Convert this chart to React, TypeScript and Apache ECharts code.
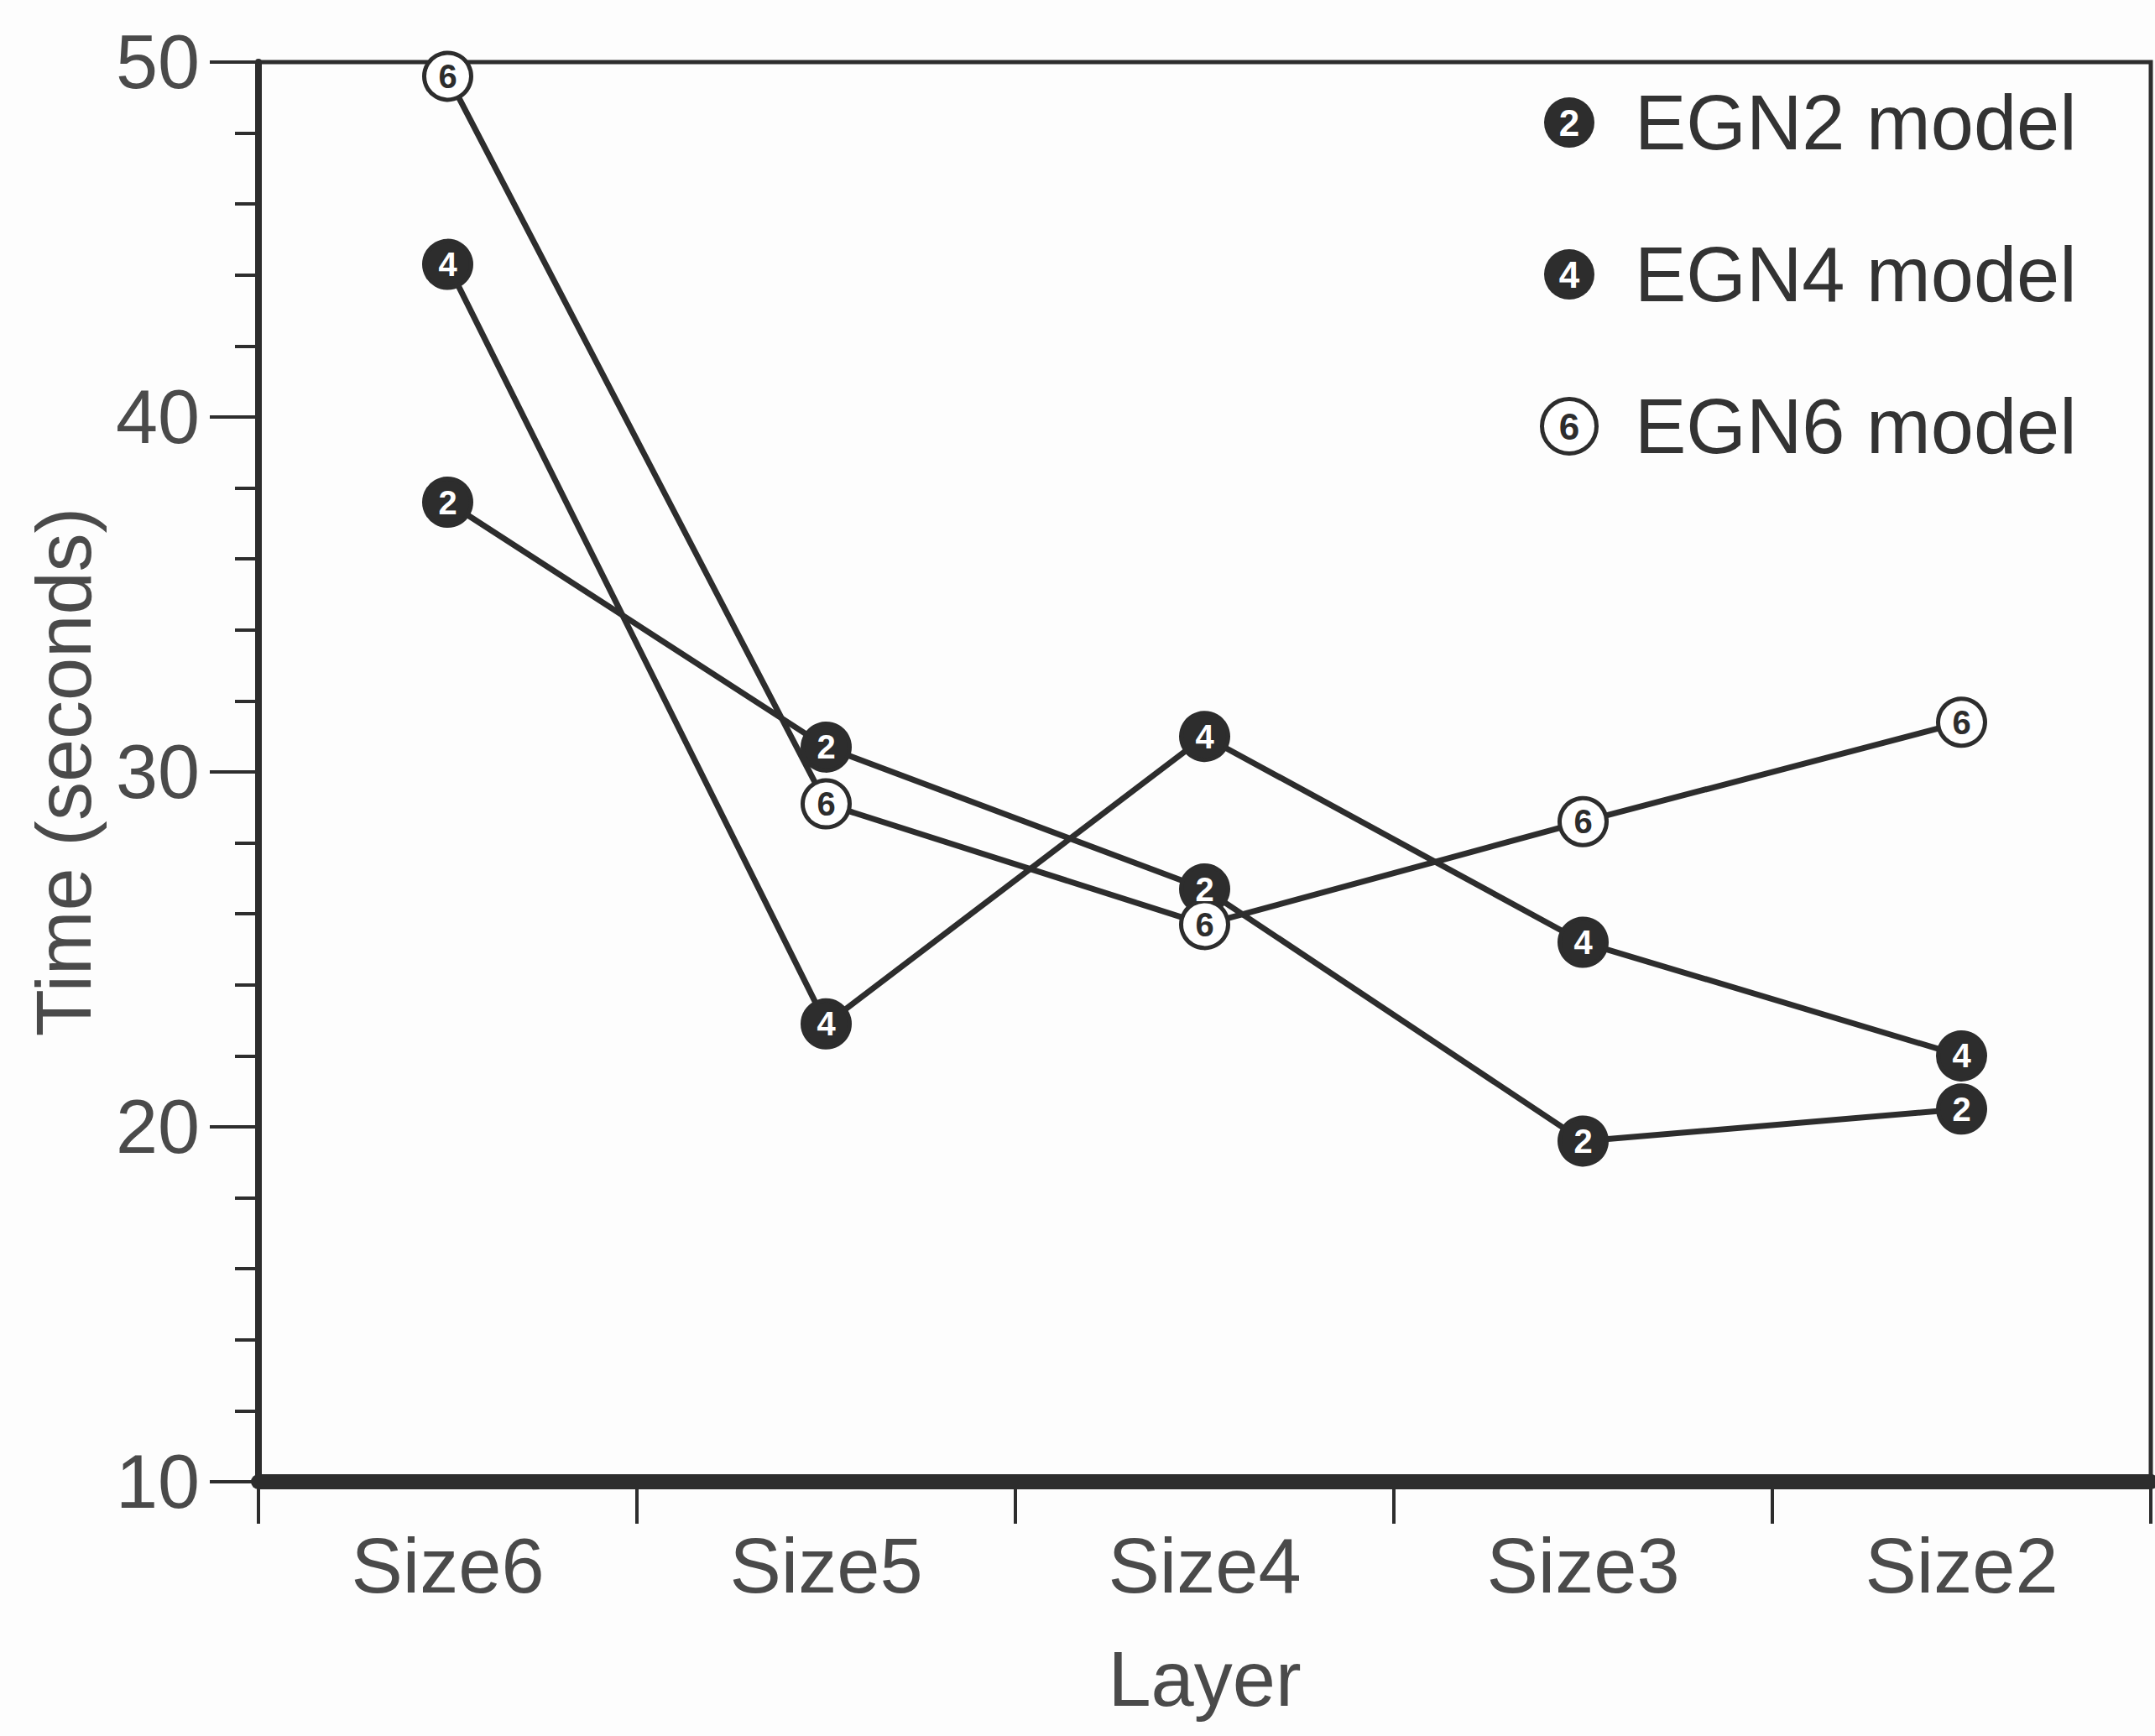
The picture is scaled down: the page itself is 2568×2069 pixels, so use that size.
import React, { useEffect, useRef } from "react";
import * as echarts from "echarts";

// Layer sizes along the x axis
const layers = ["Size6", "Size5", "Size4", "Size3", "Size2"];

// Training time (seconds) per layer size for each model
const egn2Times = [37.6, 30.7, 26.7, 19.6, 20.5];
const egn4Times = [44.3, 22.9, 31.0, 25.2, 22.0];
const egn6Times = [49.6, 29.1, 25.7, 28.6, 31.4];

// Value axis range and step
const yMin = 10;
const yMax = 50;
const yStep = 10;

const seriesDefs = [
  { name: "EGN2 model", tag: "2", values: egn2Times, filled: true },
  { name: "EGN4 model", tag: "4", values: egn4Times, filled: true },
  { name: "EGN6 model", tag: "6", values: egn6Times, filled: false },
];

const INK = "#2d2d2d";
const FONT = "'Liberation Sans', Arial, Helvetica, sans-serif";

function badgeStyle(filled: boolean) {
  return {
    width: 60,
    height: 60,
    lineHeight: 60,
    borderRadius: 30,
    backgroundColor: filled ? INK : "#ffffff",
    borderColor: INK,
    borderWidth: filled ? 0 : 5,
    color: filled ? "#ffffff" : INK,
    align: "center",
    fontSize: 44,
    fontWeight: "bold",
    fontFamily: FONT,
  };
}

export default function App() {
  const ref = useRef<HTMLDivElement>(null);

  useEffect(() => {
    if (!ref.current) return;
    const chart = echarts.init(ref.current, undefined, { renderer: "svg" });

    const rich: Record<string, any> = {
      t: {
        fontSize: 92,
        lineHeight: 100,
        color: "#333333",
        fontFamily: FONT,
        padding: [0, 0, 0, 48],
      },
    };
    seriesDefs.forEach((s) => {
      rich["k" + s.tag] = badgeStyle(s.filled);
    });

    chart.setOption({
      animation: false,
      backgroundColor: "#fdfdfd",
      grid: {
        left: 308,
        right: 5,
        top: 74,
        bottom: 303,
        containLabel: false,
        show: true,
        borderColor: INK,
        borderWidth: 5,
        backgroundColor: "transparent",
      },
      legend: {
        orient: "vertical",
        left: 1830,
        top: 91,
        icon: "none",
        itemWidth: 0,
        itemHeight: 100,
        itemGap: 85,
        selectedMode: false,
        data: seriesDefs.map((s) => s.name),
        formatter: (name: string) => {
          const d = seriesDefs.find((s) => s.name === name)!;
          return `{k${d.tag}|${d.tag}}{t|${name}}`;
        },
        textStyle: { fontFamily: FONT, rich },
      },
      xAxis: {
        type: "category",
        data: layers,
        boundaryGap: true,
        name: "Layer",
        nameLocation: "middle",
        nameGap: 189,
        nameTextStyle: { fontSize: 92, color: "#4a4a4a", fontFamily: FONT },
        axisLine: { show: true, lineStyle: { color: INK, width: 18 } },
        axisTick: { show: true, inside: false, length: 50, lineStyle: { color: INK, width: 4 } },
        axisLabel: { fontSize: 92, color: "#4a4a4a", margin: 54, fontFamily: FONT },
        splitLine: { show: false },
      },
      yAxis: {
        type: "value",
        min: yMin,
        max: yMax,
        interval: yStep,
        name: "Time (seconds)",
        nameLocation: "middle",
        nameRotate: 90,
        nameGap: 186,
        nameTextStyle: { fontSize: 92, color: "#4a4a4a", fontFamily: FONT },
        axisLine: { show: true, lineStyle: { color: INK, width: 8 } },
        axisTick: { show: true, inside: false, length: 58, lineStyle: { color: INK, width: 4 } },
        minorTick: { show: true, splitNumber: 5, length: 28, lineStyle: { color: INK, width: 4 } },
        axisLabel: { fontSize: 90, color: "#4a4a4a", margin: 70, fontFamily: FONT },
        splitLine: { show: false },
        minorSplitLine: { show: false },
      },
      series: seriesDefs.map((s) => ({
        name: s.name,
        type: "line",
        data: s.values,
        silent: true,
        z: 5,
        symbol: "circle",
        symbolSize: 56,
        lineStyle: { color: INK, width: 7 },
        itemStyle: {
          color: s.filled ? INK : "#ffffff",
          borderColor: INK,
          borderWidth: 5,
        },
        label: {
          show: true,
          position: "inside",
          formatter: () => s.tag,
          fontSize: 40,
          fontWeight: "bold",
          fontFamily: FONT,
          color: s.filled ? "#ffffff" : INK,
        },
        emphasis: { disabled: true },
      })),
    });

    return () => chart.dispose();
  }, []);

  return (
    <div
      ref={ref}
      style={{ position: "fixed", left: 0, top: 0, width: 2568, height: 2069 }}
    />
  );
}
